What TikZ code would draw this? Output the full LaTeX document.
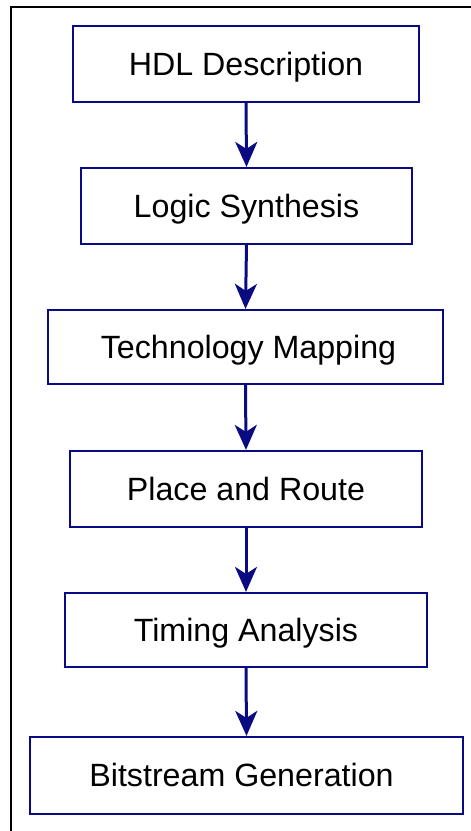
\documentclass[tikz,border=0pt]{standalone}
\usepackage{fontspec}
\setmainfont{Liberation Sans}
\usetikzlibrary{arrows.meta}
\definecolor{flowblue}{RGB}{10,10,130}
\tikzset{
  stage/.style={draw=flowblue, line width=2.2pt, fill=white, inner sep=0pt,
    font=\fontsize{32.2}{38}\selectfont, text=black,
    text height=22.5pt, text depth=0pt},
  flow/.style={draw=flowblue, line width=3pt,
    -{Stealth[length=25pt,width=22pt,inset=7pt]}}
}
\begin{document}
\begin{tikzpicture}[x=1pt,y=-1pt]
  \useasboundingbox (0,0) rectangle (471,831);
  % outer frame, open towards the right and bottom edges
  \draw[line width=1.8pt] (11,840) -- (11,7) -- (480,7);
  % flow stages
  \node[stage, minimum width=346pt, minimum height=76pt] (hdl)   at (246,64)    {HDL Description};
  \node[stage, minimum width=331pt, minimum height=76pt] (syn)   at (246.5,206) {Logic Synthesis};
  \node[stage, minimum width=395pt, minimum height=74pt] (map)   at (245.5,347) {\kern6pt Technology Mapping};
  \node[stage, minimum width=352pt, minimum height=76pt] (par)   at (246,489)   {Place and Route};
  \node[stage, minimum width=362pt, minimum height=74pt] (sta)   at (246,630)   {Timing Analysis};
  \node[stage, minimum width=433pt, minimum height=77pt] (bit)   at (246.5,775.5) {Bitstream Generation\kern10pt};
  % connectors
  \draw[flow] (hdl.south) -- (syn.north);
  \draw[flow] (syn.south) -- (map.north);
  \draw[flow] (map.south) -- (par.north);
  \draw[flow] (par.south) -- (sta.north);
  \draw[flow] (sta.south) -- (bit.north);
\end{tikzpicture}
\end{document}
